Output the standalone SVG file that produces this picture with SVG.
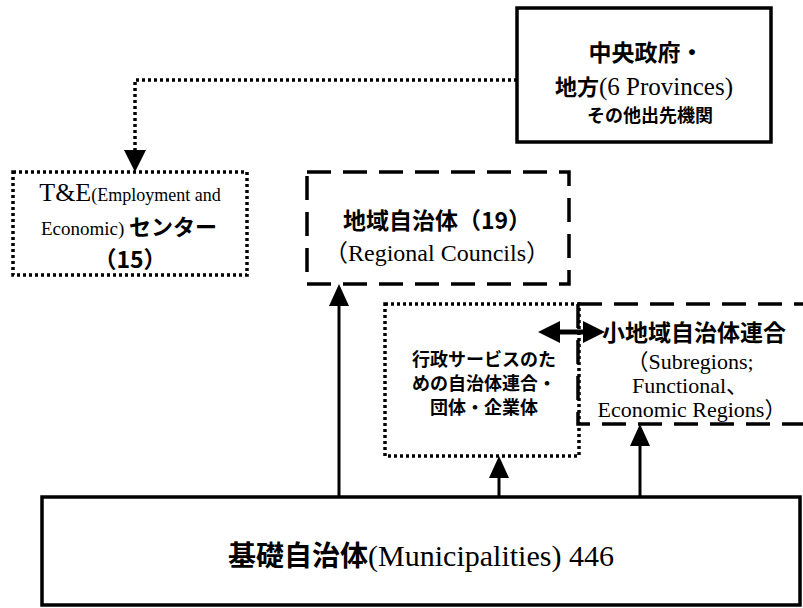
<svg xmlns="http://www.w3.org/2000/svg" width="803" height="608" viewBox="0 0 803 608">
<style>
.box{fill:#fff;stroke:#000;stroke-width:3.5}
.dot{fill:none;stroke:#000;stroke-width:3.5;stroke-dasharray:3 3}
.dash{fill:none;stroke:#000;stroke-width:3.5;stroke-dasharray:24 12}
.ln{fill:none;stroke:#000;stroke-width:3}
.jp{font-family:"Noto Sans CJK JP","Noto Sans",sans-serif;font-weight:bold;fill:#000}
.en{font-family:"Liberation Serif","Noto Sans CJK JP",serif;fill:#000}
</style>
<g id="connectors">
<path d="M517,80 H135 V152" class="dot"/>
<path d="M135,150 l-11,0 l11,22 l11,-22 z" fill="#000"/>
<line x1="339" y1="497" x2="339" y2="304" class="ln"/>
<path d="M339,284 l-10,22 h20 z" fill="#000"/>
<line x1="499" y1="497" x2="499" y2="476" class="ln"/>
<path d="M499,456 l-10,22 h20 z" fill="#000"/>
<line x1="640" y1="497" x2="640" y2="444" class="ln"/>
<path d="M640,424 l-10,22 h20 z" fill="#000"/>
<line x1="558" y1="332" x2="585" y2="332" stroke="#000" stroke-width="5"/>
<path d="M538,332 l22,-11 v22 z M605,332 l-22,-11 v22 z" fill="#000"/>
</g>
<g id="central">
<rect x="517" y="8" width="254" height="134" class="box"/>
<text x="646" y="61" text-anchor="middle" class="jp" font-size="23">中央政府・</text>
<text x="644" y="95" text-anchor="middle"><tspan class="jp" font-size="22">地方</tspan><tspan class="en" font-size="25">(6 Provinces)</tspan></text>
<text x="650" y="122" text-anchor="middle" class="jp" font-size="18">その他出先機関</text>
</g>
<g id="te-center">
<rect x="13" y="172" width="234" height="103" class="dot"/>
<text x="130" y="201" text-anchor="middle" class="en"><tspan font-size="26">T&amp;E</tspan><tspan font-size="18">(Employment and</tspan></text>
<text x="129" y="235" text-anchor="middle"><tspan class="en" font-size="19">Economic) </tspan><tspan class="jp" font-size="22">センター</tspan></text>
<text x="130" y="268" text-anchor="middle" class="jp" font-size="23">（15）</text>
</g>
<g id="regional">
<rect x="307" y="172" width="262" height="112" class="dash"/>
<text x="437" y="229" text-anchor="middle" class="jp" font-size="23">地域自治体（19）</text>
<text x="437" y="261" text-anchor="middle" class="en" font-size="24">（Regional Councils）</text>
</g>
<g id="admin">
<rect x="385" y="304" width="194" height="152" class="dot"/>
<text x="484" y="366" text-anchor="middle" class="jp" font-size="18">行政サービスのた</text>
<text x="484" y="390" text-anchor="middle" class="jp" font-size="18">めの自治体連合・</text>
<text x="484" y="414" text-anchor="middle" class="jp" font-size="18">団体・企業体</text>
</g>
<g id="subregions">
<path d="M578,304 H810 M578,304 V424 H810" class="dash"/>
<text x="694" y="341" text-anchor="middle" class="jp" font-size="23">小地域自治体連合</text>
<text x="690" y="369" text-anchor="middle" class="en" font-size="22">（Subregions;</text>
<text x="690" y="393" text-anchor="middle" class="en" font-size="22">Functional、</text>
<text x="692" y="417" text-anchor="middle" class="en" font-size="22">Economic Regions）</text>
</g>
<g id="municipalities">
<rect x="42" y="497" width="758" height="108" class="box"/>
<text x="421" y="566" text-anchor="middle"><tspan class="jp" font-size="28">基礎自治体</tspan><tspan class="en" font-size="30">(Municipalities) 446</tspan></text>
</g>
</svg>
